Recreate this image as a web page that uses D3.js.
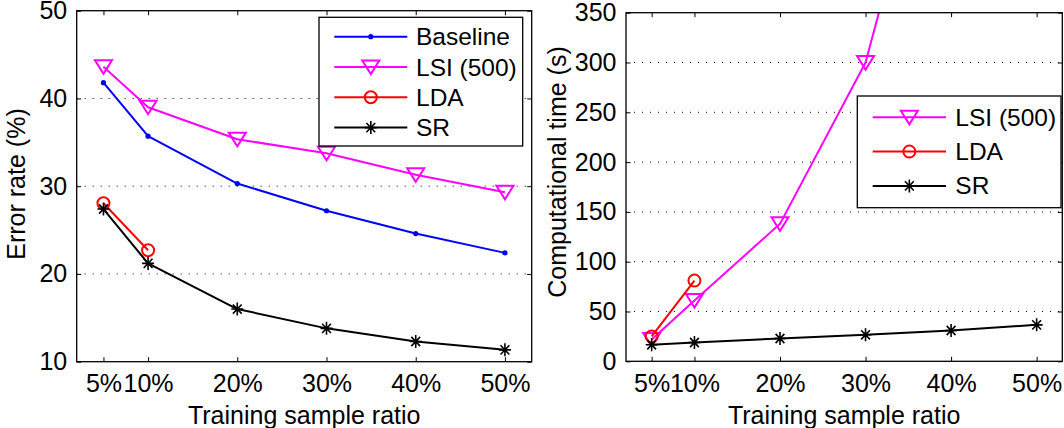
<!DOCTYPE html>
<html>
<head>
<meta charset="utf-8">
<script src="https://cdn.jsdelivr.net/npm/d3@7"></script>
<style>
  html, body { margin: 0; padding: 0; background: #fff; }
  svg { display: block; font-family: "Liberation Sans", Arial, Helvetica, sans-serif; }
  .tick line { stroke: #000; stroke-width: 1; }
  .tick text { font-size: 25px; fill: #000; }
  .grid line { stroke: #000; stroke-width: 1; stroke-dasharray: 1,7; }
</style>
</head>
<body>
<svg id="chart" width="1064" height="428"></svg>
<script>
// Data
const ratios = [5, 10, 20, 30, 40, 50];
const ratioLabels = ["5%", "10%", "20%", "30%", "40%", "50%"];

const errBaseline = [41.8, 35.7, 30.3, 27.2, 24.6, 22.4];
const errLSI = [43.6, 39.0, 35.35, 33.75, 31.3, 29.3];
const errLDA = [28.05, 22.7];
const errSR = [27.4, 21.2, 16.0, 13.8, 12.3, 11.35];

const timeLSI = [22, 61, 138, 300, 620, 1000];
const timeLDA = [25, 81];
const timeSR = [16.6, 18.9, 22.9, 26.6, 30.9, 36.6];

const errTicks = [10, 20, 30, 40, 50];
const timeTicks = [0, 50, 100, 150, 200, 250, 300, 350];

const seriesStyle = {
  "Baseline":  { color: "#0000ff", marker: "dot" },
  "LSI (500)": { color: "#ff00ff", marker: "tri" },
  "LDA":       { color: "#ff0000", marker: "circle" },
  "SR":        { color: "#000000", marker: "star" }
};

const svg = d3.select("#chart");

// marker drawing helper
function drawMarker(sel, type, color) {
  if (type === "dot") {
    sel.append("circle").attr("r", 2.6).attr("fill", color);
  } else if (type === "tri") {
    sel.append("path").attr("d", "M-8.5,-6.5L8.5,-6.5L0,7Z")
      .attr("fill", "none").attr("stroke", color).attr("stroke-width", 2)
      .attr("stroke-linejoin", "miter");
  } else if (type === "circle") {
    sel.append("circle").attr("r", 6)
      .attr("fill", "none").attr("stroke", color).attr("stroke-width", 2);
  } else if (type === "star") {
    sel.append("path")
      .attr("d", "M-6,0H6M0,-6.5V6.5M-4.4,-4.6L4.4,4.6M-4.4,4.6L4.4,-4.6")
      .attr("fill", "none").attr("stroke", color).attr("stroke-width", 1.6);
  }
}

function panel(opts) {
  const { id, x0, x1, y0, y1, yDomain, yTicks, series, yLabel, yLabelX, yLabelY, legend } = opts;

  const x = d3.scaleLinear().domain([2, 53]).range([x0, x1]);
  const y = d3.scaleLinear().domain(yDomain).range([y1, y0]);
  const g = svg.append("g");

  g.append("clipPath").attr("id", id)
    .append("rect").attr("x", x0).attr("y", y0).attr("width", x1 - x0).attr("height", y1 - y0);

  // dotted grid at interior ticks
  g.append("g").attr("class", "grid")
    .selectAll("line")
    .data(yTicks.filter(t => t !== yDomain[0] && t !== yDomain[1]))
    .join("line")
    .attr("x1", x0).attr("x2", x1)
    .attr("y1", d => y(d)).attr("y2", d => y(d));

  // axes, ticks pointing inward (matlab box style)
  const fmt = d => ratioLabels[ratios.indexOf(d)];
  g.append("g").attr("transform", `translate(0,${y1})`)
    .call(d3.axisBottom(x).tickValues(ratios).tickFormat(fmt).tickSizeInner(-4.5).tickSizeOuter(0).tickPadding(12.5))
    .call(a => a.select(".domain").remove());
  g.append("g").attr("transform", `translate(0,${y0})`)
    .call(d3.axisTop(x).tickValues(ratios).tickFormat("").tickSizeInner(-4.5).tickSizeOuter(0))
    .call(a => a.select(".domain").remove());
  g.append("g").attr("transform", `translate(${x0},0)`)
    .call(d3.axisLeft(y).tickValues(yTicks).tickSizeInner(-4.5).tickSizeOuter(0).tickPadding(9.5))
    .call(a => a.select(".domain").remove());
  g.append("g").attr("transform", `translate(${x1},0)`)
    .call(d3.axisRight(y).tickValues(yTicks).tickFormat("").tickSizeInner(-4.5).tickSizeOuter(0))
    .call(a => a.select(".domain").remove());
  g.selectAll(".tick text").attr("font-family", null).attr("font-size", null);

  // data lines
  const plot = g.append("g").attr("clip-path", `url(#${id})`);
  const line = d3.line().x(d => x(d[0])).y(d => y(d[1]));
  series.forEach(s => {
    const st = seriesStyle[s.name];
    const pts = s.values.map((v, i) => [ratios[i], v]);
    plot.append("path").datum(pts)
      .attr("d", line).attr("fill", "none")
      .attr("stroke", st.color).attr("stroke-width", 2).attr("stroke-linejoin", "round");
    pts.forEach(p => {
      const m = plot.append("g").attr("transform", `translate(${x(p[0])},${y(p[1])})`);
      drawMarker(m, st.marker, st.color);
    });
  });

  // box
  g.append("rect").attr("x", x0).attr("y", y0).attr("width", x1 - x0).attr("height", y1 - y0)
    .attr("fill", "none").attr("stroke", "#000").attr("stroke-width", 1.3);

  // axis titles
  g.append("text").attr("x", (x0 + x1) / 2).attr("y", 424)
    .attr("text-anchor", "middle").attr("font-size", 25).text("Training sample ratio");
  g.append("text").attr("transform", `translate(${yLabelX},${yLabelY}) rotate(-90)`)
    .attr("text-anchor", "middle").attr("font-size", 25).text(yLabel);

  // legend
  const lg = g.append("g");
  lg.append("rect").attr("x", legend.x).attr("y", legend.y).attr("width", legend.w).attr("height", legend.h)
    .attr("fill", "#fff").attr("stroke", "#000").attr("stroke-width", 1.3);
  series.forEach((s, i) => {
    const st = seriesStyle[s.name];
    const ly = legend.firstY + i * legend.step;
    lg.append("line").attr("x1", legend.lx0).attr("x2", legend.lx1).attr("y1", ly).attr("y2", ly)
      .attr("stroke", st.color).attr("stroke-width", 2);
    const m = lg.append("g").attr("transform", `translate(${(legend.lx0 + legend.lx1) / 2},${ly})`);
    drawMarker(m, st.marker, st.color);
    lg.append("text").attr("x", legend.tx).attr("y", ly).attr("dy", "0.35em")
      .attr("font-size", 24.5).text(s.name);
  });
}

panel({
  id: "clipErr", x0: 76.7, x1: 531.7, y0: 10.7, y1: 361.7,
  yDomain: [10, 50], yTicks: errTicks,
  series: [
    { name: "Baseline", values: errBaseline },
    { name: "LSI (500)", values: errLSI },
    { name: "LDA", values: errLDA },
    { name: "SR", values: errSR }
  ],
  yLabel: "Error rate (%)", yLabelX: 25, yLabelY: 184,
  legend: { x: 319, y: 17.3, w: 203.7, h: 128.7, firstY: 36.7, step: 30.3, lx0: 334.3, lx1: 407.3, tx: 416 }
});

panel({
  id: "clipTime", x0: 626, x1: 1062.3, y0: 12.7, y1: 361.3,
  yDomain: [0, 350], yTicks: timeTicks,
  series: [
    { name: "LSI (500)", values: timeLSI },
    { name: "LDA", values: timeLDA },
    { name: "SR", values: timeSR }
  ],
  yLabel: "Computational time (s)", yLabelX: 566, yLabelY: 172,
  legend: { x: 857.3, y: 96, w: 203.7, h: 111.7, firstY: 117.3, step: 34.3, lx0: 872.7, lx1: 946, tx: 955.3 }
});
</script>
</body>
</html>
